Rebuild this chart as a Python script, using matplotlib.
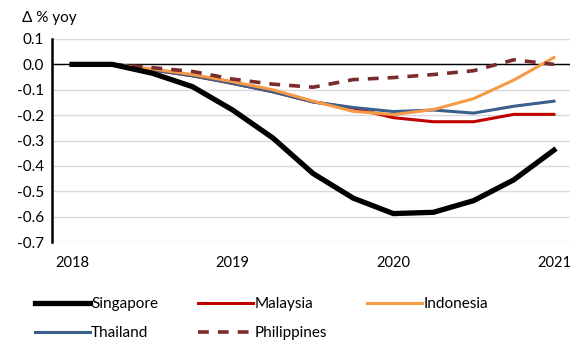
import matplotlib.pyplot as plt
import numpy as np

# quarterly observations, 2018Q1 .. 2021Q1
quarters = [2018.0, 2018.25, 2018.5, 2018.75, 2019.0, 2019.25, 2019.5,
            2019.75, 2020.0, 2020.25, 2020.5, 2020.75, 2021.0]
years = [2018, 2019, 2020, 2021]

singapore = [0.0, 0.0, -0.035, -0.088, -0.18, -0.29, -0.43, -0.527, -0.588, -0.583, -0.537, -0.455, -0.338]
malaysia = [0.0, 0.0, -0.022, -0.045, -0.075, -0.108, -0.148, -0.172, -0.21, -0.226, -0.226, -0.197, -0.197]
indonesia = [0.0, 0.0, -0.018, -0.04, -0.068, -0.1, -0.145, -0.185, -0.198, -0.178, -0.135, -0.062, 0.027]
thailand = [0.0, 0.0, -0.022, -0.045, -0.075, -0.108, -0.148, -0.17, -0.186, -0.18, -0.192, -0.165, -0.145]
philippines = [0.0, 0.0, -0.013, -0.028, -0.058, -0.078, -0.09, -0.06, -0.052, -0.04, -0.025, 0.018, 0.0]
yticks = [-0.7, -0.6, -0.5, -0.4, -0.3, -0.2, -0.1, 0.0, 0.1]

plt.rcParams['font.family'] = ['Lato', 'DejaVu Sans']

fig = plt.figure(figsize=(5.7, 3.43), dpi=100)
ax = fig.add_axes([52 / 570, 1 - 242 / 343, 1 - 52 / 570, (242 - 39) / 343])
ax.set_axisbelow(True)

ax.plot(quarters, thailand, color='#3B5F8C', lw=2.2, label='Thailand', zorder=3)
ax.plot(quarters, malaysia, color='#C00000', lw=2.2, label='Malaysia', zorder=2.5)
ax.plot(quarters, indonesia, color='#F79A46', lw=2.2, label='Indonesia', zorder=4)
ax.plot(quarters, philippines, color='#7B2B2B', lw=2.6, dashes=(3, 2.5), label='Philippines', zorder=5)
ax.plot(quarters, singapore, color='black', lw=3.8, label='Singapore', zorder=6)

ax.set_xlim(2017.875, 2021.1)
ax.set_ylim(-0.7, 0.1)
ax.set_yticks(yticks)
ax.set_yticklabels(['%.1f' % v for v in yticks])
ax.set_xticks(years)
ax.set_xticklabels([str(y) for y in years])
ax.tick_params(axis='both', length=0, labelsize=11, colors='black')
ax.tick_params(axis='x', pad=10, labelsize=10.5)
ax.tick_params(axis='y', pad=6)

ax.grid(axis='y', color='#D9D9D9', lw=1, zorder=0)
ax.axhline(0, color='black', lw=1, zorder=2)
for side in ['top', 'right', 'bottom']:
    ax.spines[side].set_visible(False)
ax.spines['left'].set_linewidth(1.8)

fig.text(22 / 570, 1 - 18 / 343, 'Δ % yoy', fontsize=11, va='center')

h, l = ax.get_legend_handles_labels()
order = ['Singapore', 'Thailand', 'Malaysia', 'Philippines', 'Indonesia']
hs = [h[l.index(n)] for n in order]
fig.legend(hs, order, ncol=3, loc='upper left', bbox_to_anchor=(0.05, 0.152),
           frameon=False, fontsize=11, handlelength=3.6, handletextpad=0.1,
           columnspacing=2.6, labelspacing=1.0, borderaxespad=0)

fig.savefig('out.png', dpi=100)
